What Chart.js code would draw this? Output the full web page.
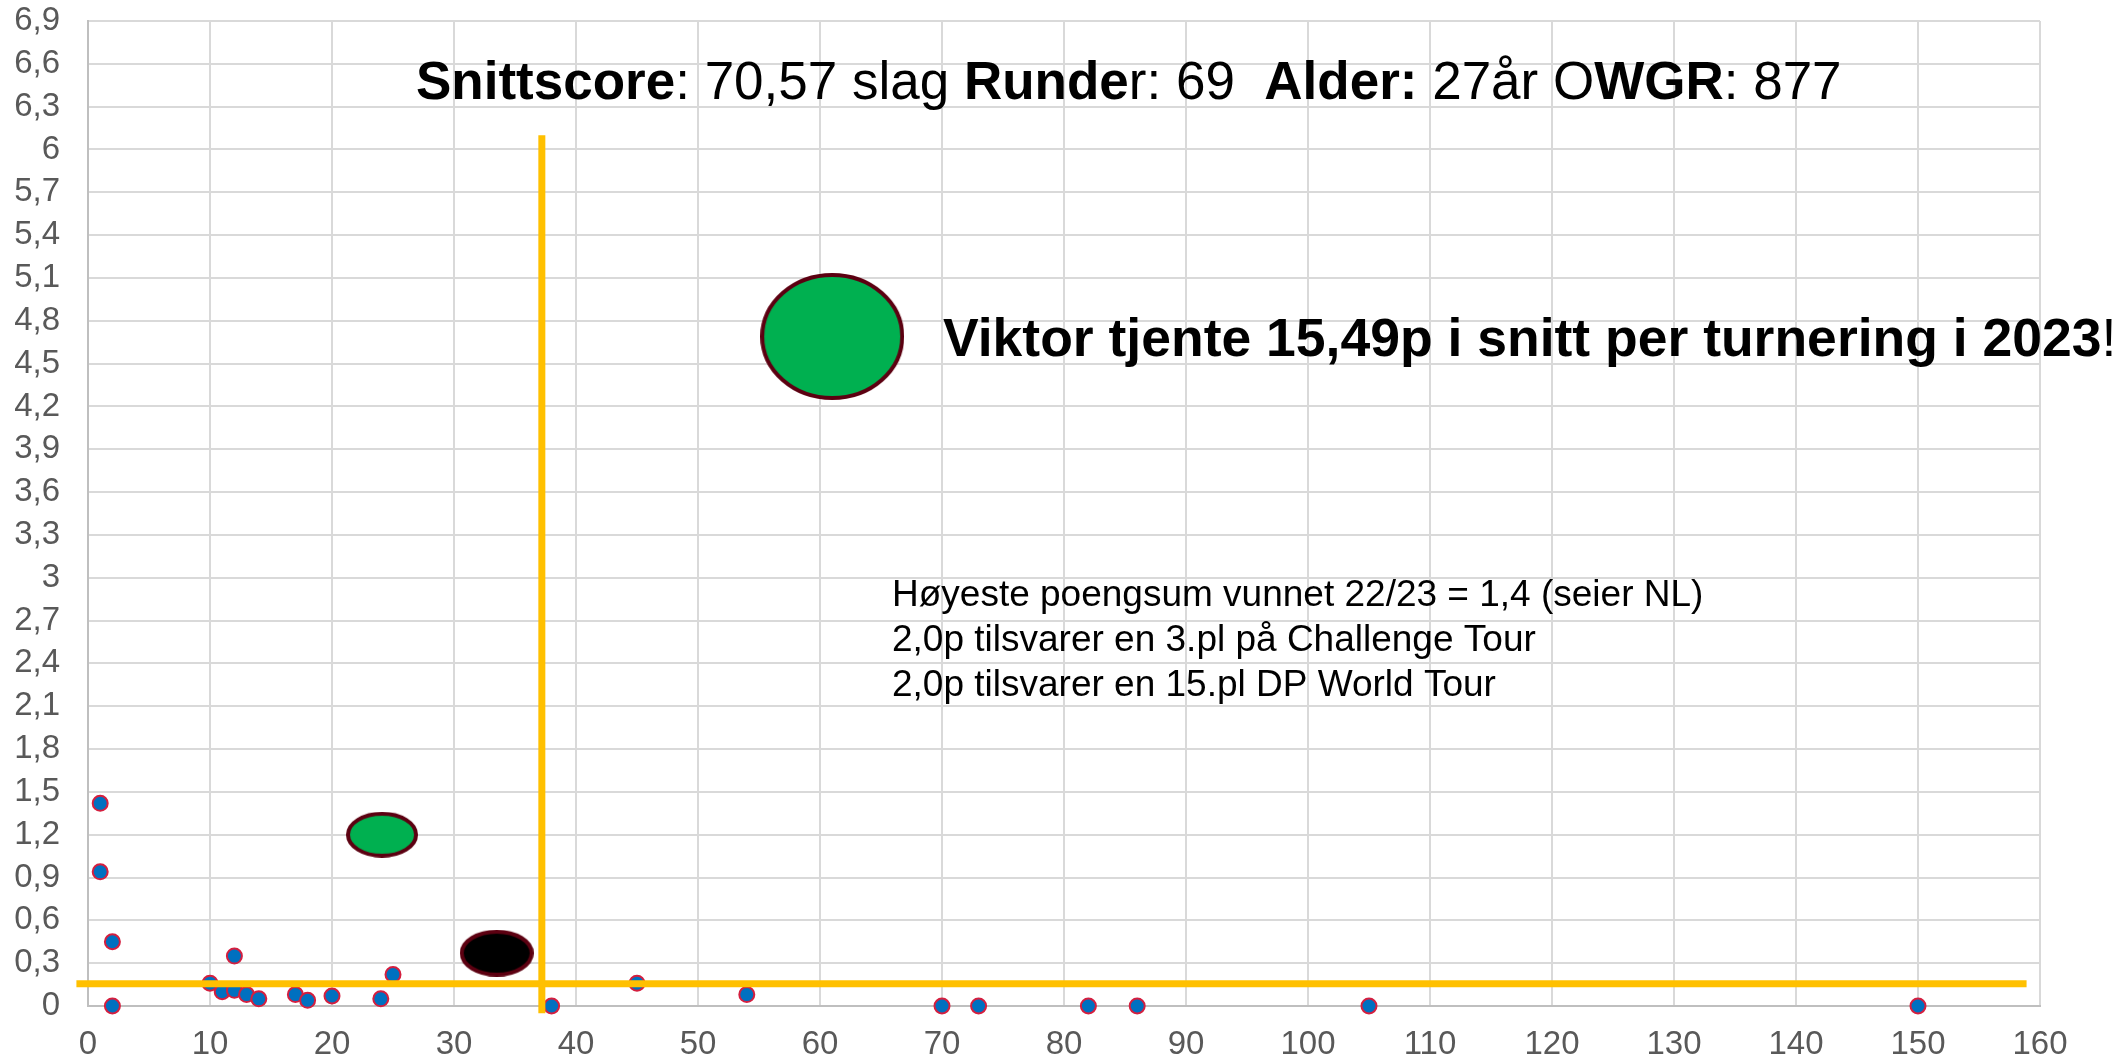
<!DOCTYPE html>
<html>
<head>
<meta charset="utf-8">
<script src="https://cdn.jsdelivr.net/npm/chart.js@4.4.0/dist/chart.umd.min.js"></script>
<style>
  body { margin: 0; background: #fff; }
  #wrap { width: 2113px; height: 1059px; }
</style>
</head>
<body>
<div id="wrap"><canvas id="myChart"></canvas></div>
<script>
// tournaments: x = placement, y = points
const xPlace = [1, 1, 2, 2, 10, 11, 12, 12, 13, 14, 17, 18, 20, 24, 25, 38, 45, 54, 70, 73, 82, 86, 105, 150];
const yPoints = [1.42, 0.94, 0.45, 0, 0.16, 0.10, 0.11, 0.35, 0.08, 0.05, 0.08, 0.04, 0.07, 0.05, 0.22, 0, 0.16, 0.08, 0, 0, 0, 0, 0, 0];

// highlighted markers (small green, black, big green)
const markerX = [24.1, 33.5, 61];
const markerY = [1.2, 0.37, 4.69];

// yellow reference lines
const vLineX = [37.2, 37.2];
const vLineY = [6.1, -0.05];
const hLineX = [-0.95, 158.9];
const hLineY = [0.155, 0.155];

const xTicks = [0, 10, 20, 30, 40, 50, 60, 70, 80, 90, 100, 110, 120, 130, 140, 150, 160];
const yTicks = [0, 0.3, 0.6, 0.9, 1.2, 1.5, 1.8, 2.1, 2.4, 2.7, 3, 3.3, 3.6, 3.9, 4.2, 4.5, 4.8, 5.1, 5.4, 5.7, 6, 6.3, 6.6, 6.9];

const FONT = '"Liberation Sans", Arial, sans-serif';

function ellipseStyle(w, h, fill, stroke, lw) {
    const c = document.createElement('canvas');
    c.width = w;
    c.height = h;
    const g = c.getContext('2d');
    g.beginPath();
    g.ellipse(w / 2, h / 2, w / 2 - lw / 2, h / 2 - lw / 2, 0, 0, 2 * Math.PI);
    g.fillStyle = fill;
    g.fill();
    g.lineWidth = lw;
    g.strokeStyle = stroke;
    g.stroke();
    return c;
}

const markerStyles = [
    ellipseStyle(72, 46, '#00B050', '#5C0011', 4),
    ellipseStyle(74, 47, '#000000', '#5C0011', 4),
    ellipseStyle(144, 127, '#00B050', '#5C0011', 4)
];

function pts(xs, ys) {
    return xs.map((x, i) => ({ x: x, y: ys[i] }));
}

// text blocks: [text, bold]
const titleParts = [
    ['Snittscore', true], [': 70,57 slag ', false], ['Runde', true], ['r: 69  ', false],
    ['Alder:', true], [' 27år O', false], ['WGR', true], [': 877', false]
];
const viktorParts = [['Viktor tjente 15,49p i snitt per turnering i 2023', true], ['!', false]];
const noteLines = [
    'Høyeste poengsum vunnet 22/23 = 1,4 (seier NL)',
    '2,0p tilsvarer en 3.pl på Challenge Tour',
    '2,0p tilsvarer en 15.pl DP World Tour'
];

function drawParts(ctx, parts, x, y, size) {
    parts.forEach(p => {
        ctx.font = (p[1] ? 'bold ' : '') + size + 'px ' + FONT;
        ctx.fillText(p[0], x, y);
        x += ctx.measureText(p[0]).width;
    });
}

const textPlugin = {
    id: 'texts',
    afterDraw(chart) {
        const ctx = chart.ctx;
        ctx.save();
        ctx.fillStyle = '#000';
        ctx.textBaseline = 'alphabetic';
        ctx.textAlign = 'left';
        drawParts(ctx, titleParts, 416, 99, 53);
        drawParts(ctx, viktorParts, 943, 356, 53.5);
        ctx.font = '37px ' + FONT;
        noteLines.forEach((t, i) => ctx.fillText(t, 892, 606 + i * 45));
        ctx.restore();
    }
};

new Chart('myChart', {
    type: 'scatter',
    data: {
        datasets: [{
            type: 'line',
            data: pts(vLineX, vLineY),
            borderColor: '#FFC000',
            borderWidth: 7,
            pointRadius: 0,
            clip: false
        }, {
            type: 'line',
            data: pts(hLineX, hLineY),
            borderColor: '#FFC000',
            borderWidth: 7,
            pointRadius: 0,
            clip: false
        }, {
            data: pts(xPlace, yPoints),
            backgroundColor: '#0070C0',
            borderColor: '#D41F3F',
            borderWidth: 2,
            pointRadius: 7.5,
            clip: false
        }, {
            data: pts(markerX, markerY),
            pointStyle: markerStyles,
            pointRadius: 10,
            clip: false
        }]
    },
    options: {
        responsive: true,
        maintainAspectRatio: false,
        animation: false,
        layout: { padding: { top: 21, right: 73, bottom: 0, left: 0 } },
        plugins: {
            legend: { display: false },
            tooltip: { enabled: false }
        },
        scales: {
            x: {
                type: 'linear',
                min: 0,
                max: 160,
                afterBuildTicks: s => { s.ticks = xTicks.map(v => ({ value: v })); },
                afterFit: s => { s.height = 53; s.paddingLeft = 0; s.paddingRight = 0; },
                grid: { color: '#D9D9D9', lineWidth: 2, drawTicks: false },
                border: { color: '#BFBFBF', width: 2 },
                ticks: {
                    autoSkip: false,
                    maxRotation: 0,
                    padding: 19,
                    color: '#595959',
                    font: { family: FONT, size: 33 }
                }
            },
            y: {
                min: 0,
                max: 6.9,
                afterBuildTicks: s => { s.ticks = yTicks.map(v => ({ value: v })); },
                afterFit: s => { s.width = 88; s.paddingTop = 0; s.paddingBottom = 0; },
                grid: { color: '#D9D9D9', lineWidth: 2, drawTicks: false },
                border: { color: '#BFBFBF', width: 2 },
                ticks: {
                    autoSkip: false,
                    padding: 28,
                    color: '#595959',
                    font: { family: FONT, size: 33 },
                    callback: v => String(v).replace('.', ',')
                }
            }
        }
    },
    plugins: [textPlugin]
});
</script>
</body>
</html>
